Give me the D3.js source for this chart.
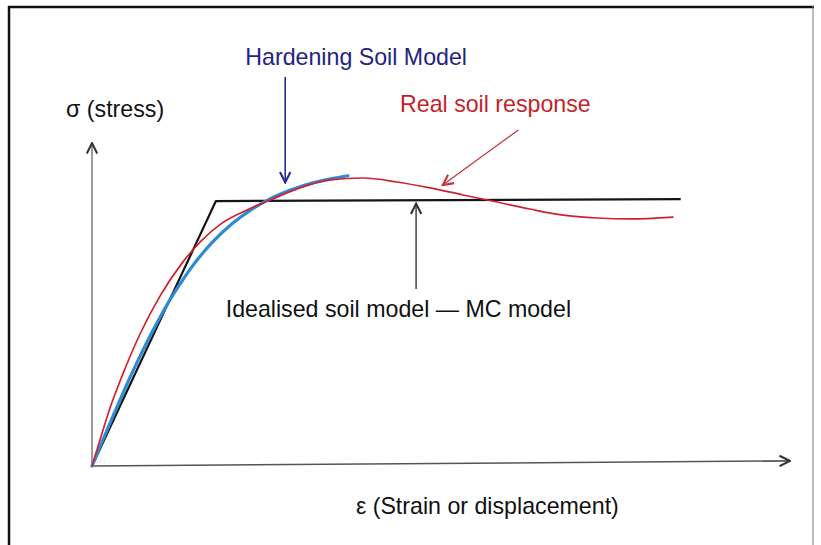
<!DOCTYPE html>
<html>
<head>
<meta charset="utf-8">
<script src="https://cdn.jsdelivr.net/npm/d3@7"></script>
<style>
  body { margin: 0; background: #fff; }
  svg { display: block; font-family: "Liberation Sans", Arial, sans-serif; }
</style>
</head>
<body>
<svg id="chart" width="821" height="545"></svg>
<script>
// strain (x) / stress (y), arbitrary units 0-100
const mcModel = [[0, 0], [17.7, 82.8], [84.1, 83.4]];

const hardeningSoil = [
  [0, 0], [1.43, 7.5], [2.86, 14.9], [4.29, 22.1], [5.71, 29.0], [7.14, 35.6],
  [8.57, 41.8], [10.0, 47.6], [11.43, 53.0], [12.86, 57.8], [14.29, 62.3],
  [17.14, 69.8], [20.0, 75.7], [22.86, 80.3], [25.71, 83.8], [28.57, 86.4],
  [31.43, 88.4], [34.29, 89.8], [36.57, 90.7]
];

const realSoil = [
  [0, 0], [1.14, 8.1], [2.57, 18.1], [4.29, 28.1], [6.86, 41.25], [9.71, 53.1],
  [12.86, 63.4], [15.71, 70.6], [18.57, 75.9], [22.14, 80.0], [25.14, 82.8],
  [29.29, 86.6], [34.0, 89.4], [38.71, 90.0], [43.57, 88.75], [48.29, 86.9],
  [53.0, 84.7], [57.86, 82.5], [62.57, 80.3], [67.29, 78.4], [72.14, 77.5],
  [76.86, 77.2], [83.0, 77.8]
];

const axisX = [[0, 0], [99.7, 1.6]];
const axisY = [[0, 0], [0, 100.9]];

const labelTexts = ["Hardening Soil Model", "Real soil response", "Idealised soil model \u2014 MC model", "\u03c3 (stress)", "\u03b5 (Strain or displacement)"];

const width = 821, height = 545;
const svg = d3.select("#chart");

const x = d3.scaleLinear().domain([0, 100]).range([92, 792]);
const y = d3.scaleLinear().domain([0, 100]).range([466, 146]);

// ----------------------- frame
svg.append("line").attr("x1", 8).attr("x2", 814).attr("y1", 7).attr("y2", 7)
  .attr("stroke", "#111").attr("stroke-width", 2.5);
svg.append("line").attr("x1", 9).attr("x2", 9).attr("y1", 6).attr("y2", height)
  .attr("stroke", "#111").attr("stroke-width", 2.5);
svg.append("line").attr("x1", 813).attr("x2", 813).attr("y1", 6).attr("y2", height)
  .attr("stroke", "#777").attr("stroke-width", 1);

// ----------------------- arrow markers
const defs = svg.append("defs");
function marker(id, color, size) {
  defs.append("marker")
    .attr("id", id)
    .attr("viewBox", "0 0 10 10")
    .attr("refX", 9).attr("refY", 5)
    .attr("markerUnits", "userSpaceOnUse")
    .attr("markerWidth", size).attr("markerHeight", size)
    .attr("orient", "auto")
    .append("path")
    .attr("d", "M1,1 L9,5 L1,9")
    .attr("fill", "none")
    .attr("stroke", color)
    .attr("stroke-width", 1.6);
}
marker("arrAxis", "#333", 13);
marker("arrBlue", "#2b2b8f", 13);
marker("arrRed", "#c8323a", 13);
marker("arrGray", "#333", 13);

const line = d3.line().x(d => x(d[0])).y(d => y(d[1]));
const smooth = d3.line().x(d => x(d[0])).y(d => y(d[1])).curve(d3.curveMonotoneX);

// ----------------------- axes
svg.append("path").attr("d", line(axisY)).attr("fill", "none")
  .attr("stroke", "#666").attr("stroke-width", 1.3).attr("marker-end", "url(#arrAxis)");
svg.append("path").attr("d", line(axisX)).attr("fill", "none")
  .attr("stroke", "#555").attr("stroke-width", 1.6).attr("marker-end", "url(#arrAxis)");

// ----------------------- curves
svg.append("path").attr("d", line(mcModel)).attr("fill", "none")
  .attr("stroke", "#151515").attr("stroke-width", 2.2).attr("stroke-linejoin", "round");
svg.append("path").attr("d", smooth(hardeningSoil)).attr("fill", "none")
  .attr("stroke", "#2f8ad6").attr("stroke-width", 3.2).attr("stroke-linecap", "round");
svg.append("path").attr("d", smooth(realSoil)).attr("fill", "none")
  .attr("stroke", "#cf2230").attr("stroke-width", 1.7).attr("stroke-linecap", "round");

// ----------------------- annotations
const pointers = [
  { from: [27.6, 121.6], to: [27.6, 88.6], color: "#2b2b8f", m: "arrBlue", w: 1.6 },
  { from: [60.9, 105.0], to: [50.1, 87.8], color: "#c8323a", m: "arrRed", w: 1.3 },
  { from: [46.3, 55.3], to: [46.3, 82.0], color: "#444", m: "arrGray", w: 1.5 }
];
svg.selectAll(".pointer")
  .data(pointers)
  .join("path")
  .attr("class", "pointer")
  .attr("d", d => line([d.from, d.to]))
  .attr("fill", "none")
  .attr("stroke", d => d.color)
  .attr("stroke-width", d => d.w)
  .attr("marker-end", d => `url(#${d.m})`);

const labels = [
  { text: labelTexts[0], at: [21.9, 125.3], color: "#24247f" },
  { text: labelTexts[1], at: [44.0, 110.6], color: "#c41f2b" },
  { text: labelTexts[2], at: [19.1, 46.6], color: "#111" },
  { text: labelTexts[3], at: [-3.7, 109.1], color: "#111" },
  { text: labelTexts[4], at: [37.7, -15.0], color: "#111" }
];
svg.selectAll(".label")
  .data(labels)
  .join("text")
  .attr("class", "label")
  .attr("x", d => x(d.at[0]))
  .attr("y", d => y(d.at[1]))
  .attr("fill", d => d.color)
  .style("font-size", "23.2px")
  .text(d => d.text);
</script>
</body>
</html>
